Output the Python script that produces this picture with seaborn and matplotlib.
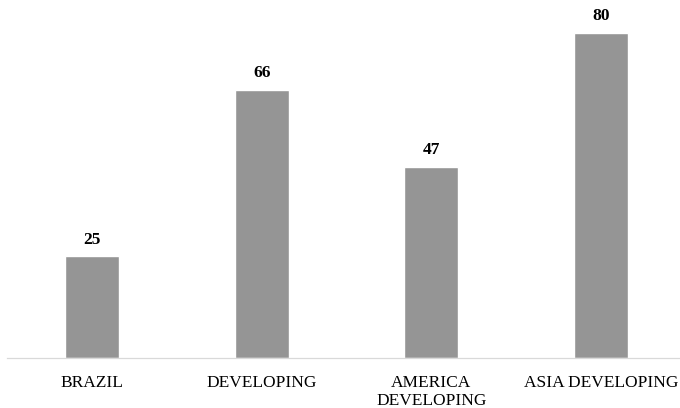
import matplotlib
matplotlib.use("Agg")
import matplotlib.pyplot as plt
import seaborn as sns
import pandas as pd

regions = ["BRAZIL", "DEVELOPING", "AMERICA\nDEVELOPING", "ASIA DEVELOPING"]
values = [25, 66, 47, 80]

sns.set_style("white")
plt.rcParams["font.family"] = ["Liberation Serif", "DejaVu Serif"]

df = pd.DataFrame({"region": regions, "value": values})

fig = plt.figure(figsize=(6.8, 4.08), dpi=100)
ax = fig.add_axes([7.25 / 680, 50 / 408, 678.5 / 680, 358 / 408])

sns.barplot(data=df, x="region", y="value", color="#959595", width=0.32,
            saturation=1, ax=ax)

ax.bar_label(ax.containers[0], fmt="%d", padding=6, fontsize=12.5,
             fontweight="bold", color="#000000")

ax.set_xlim(-0.5, 3.5)
ax.set_ylim(0, 88)
ax.set_xlabel("")
ax.set_ylabel("")
ax.set_yticks([])
ax.tick_params(axis="x", length=0, pad=12, labelsize=12.5, colors="#000000")
for side in ["left", "right", "top"]:
    ax.spines[side].set_visible(False)
ax.spines["bottom"].set_color("#d9d9d9")
ax.spines["bottom"].set_linewidth(0.9)

fig.savefig("out.png", dpi=100)
